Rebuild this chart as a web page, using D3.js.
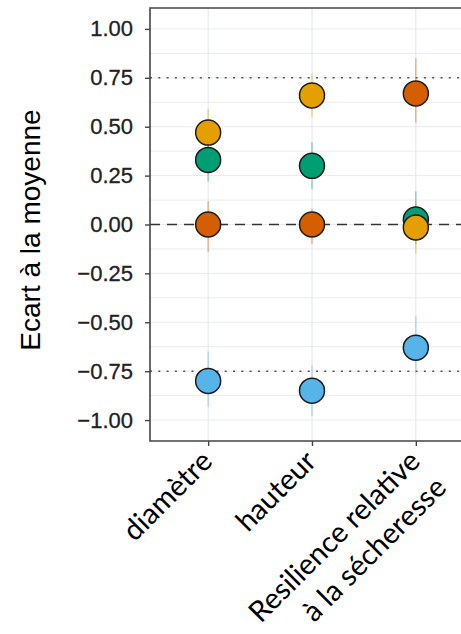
<!DOCTYPE html>
<html>
<head>
<meta charset="utf-8">
<script src="https://cdn.jsdelivr.net/npm/d3@7"></script>
<style>
  body { margin: 0; background: #fff; }
  .axis text { font-family: "Liberation Sans", Arial, sans-serif; fill: #222; }
</style>
</head>
<body>
<div id="chart"></div>
<script>
// Data
let categories = ["diamètre", "hauteur", "Resilience relative|à la sécheresse"];
let seriesNames = ["rouge", "orange", "vert", "bleu"];
let seriesColors = ["#D55E00", "#E69F00", "#009E73", "#56B4E9"];
let rougeValues = [0.0, 0.0, 0.67];
let rougeLow = [-0.14, -0.10, 0.52];
let rougeHigh = [0.12, 0.08, 0.85];
let orangeValues = [0.47, 0.66, -0.015];
let orangeLow = [0.36, 0.55, -0.15];
let orangeHigh = [0.59, 0.77, 0.12];
let vertValues = [0.33, 0.30, 0.025];
let vertLow = [0.22, 0.18, -0.10];
let vertHigh = [0.44, 0.42, 0.17];
let bleuValues = [-0.80, -0.85, -0.63];
let bleuLow = [-0.93, -0.98, -0.76];
let bleuHigh = [-0.65, -0.72, -0.47];
let yTicks = [-1, -0.75, -0.5, -0.25, 0, 0.25, 0.5, 0.75, 1];
let yGrid = d3.range(-8, 9).map(d => d / 8);
let refDotted = [-0.75, 0.75];
let refDashed = [0];

let W = 461, H = 634;
let margin = { top: 8, right: -13, bottom: 193, left: 150 };

let svg = d3.select("#chart")
  .append("svg")
  .attr("width", W)
  .attr("height", H);

// Scales
let x = d3.scalePoint()
  .domain(categories)
  .range([margin.left, W - margin.right])
  .padding(0.56);

let y = d3.scaleLinear()
  .domain([-1.107, 1.107])
  .range([H - margin.bottom, margin.top]);

let plotBottom = H - margin.bottom;

// Grid
svg.append("g")
  .selectAll("line")
  .data(yGrid)
  .join("line")
    .attr("x1", margin.left)
    .attr("x2", W)
    .attr("y1", d => y(d))
    .attr("y2", d => y(d))
    .attr("stroke", "#ebebeb")
    .attr("stroke-width", 1);

svg.append("g")
  .selectAll("line")
  .data(categories)
  .join("line")
    .attr("x1", d => x(d))
    .attr("x2", d => x(d))
    .attr("y1", margin.top)
    .attr("y2", plotBottom)
    .attr("stroke", "#dfe6ec")
    .attr("stroke-width", 1);

// Reference lines
svg.append("g")
  .selectAll("line")
  .data(refDotted)
  .join("line")
    .attr("x1", margin.left)
    .attr("x2", W)
    .attr("y1", d => y(d))
    .attr("y2", d => y(d))
    .attr("stroke", "#555")
    .attr("stroke-width", 1.6)
    .attr("stroke-dasharray", "2,6.3");

svg.append("g")
  .selectAll("line")
  .data(refDashed)
  .join("line")
    .attr("x1", margin.left)
    .attr("x2", W)
    .attr("y1", d => y(d))
    .attr("y2", d => y(d))
    .attr("stroke", "#333")
    .attr("stroke-width", 1.6)
    .attr("stroke-dasharray", "10,7");

// Points
let series = [
  { values: rougeValues, low: rougeLow, high: rougeHigh },
  { values: orangeValues, low: orangeLow, high: orangeHigh },
  { values: vertValues, low: vertLow, high: vertHigh },
  { values: bleuValues, low: bleuLow, high: bleuHigh }
];

let points = [];
series.forEach(function(s, i) {
  categories.forEach(function(c, j) {
    points.push({ name: seriesNames[i], color: seriesColors[i], cat: c,
      v: s.values[j], lo: s.low[j], hi: s.high[j] });
  });
});
// higher values drawn first so lower circles sit on top
points.sort((a, b) => b.v - a.v);

svg.append("g")
  .selectAll("line")
  .data(points)
  .join("line")
    .attr("x1", d => x(d.cat))
    .attr("x2", d => x(d.cat))
    .attr("y1", d => y(d.lo))
    .attr("y2", d => y(d.hi))
    .attr("stroke", d => d.color)
    .attr("stroke-opacity", 0.5)
    .attr("stroke-width", 1.2);

svg.append("g")
  .selectAll("circle")
  .data(points)
  .join("circle")
    .attr("cx", d => x(d.cat))
    .attr("cy", d => y(d.v))
    .attr("r", 12.5)
    .attr("fill", d => d.color)
    .attr("stroke", "#1c1c1c")
    .attr("stroke-width", 1.5);

// Frame
svg.append("path")
  .attr("d", "M" + W + "," + margin.top + "H" + margin.left + "V" + plotBottom + "H" + W)
  .attr("fill", "none")
  .attr("stroke", "#444")
  .attr("stroke-width", 1.6);

// y-axis
let yAxis = d3.axisLeft(y)
  .tickValues(yTicks)
  .tickSize(5)
  .tickPadding(12)
  .tickFormat(d3.format(".2f"));

let yAxisEl = svg.append("g")
  .attr("class", "axis")
  .attr("transform", "translate(" + margin.left + ",0)")
  .call(yAxis);
yAxisEl.select(".domain").remove();
yAxisEl.selectAll("line").attr("stroke", "#444").attr("stroke-width", 1.4);
yAxisEl.selectAll("text")
  .style("font-size", "22px")
  .style("stroke", "#222")
  .style("stroke-width", 0.3);

// x-axis
let xAxis = d3.axisBottom(x)
  .tickSize(5)
  .tickFormat("");

let xAxisEl = svg.append("g")
  .attr("class", "axis")
  .attr("transform", "translate(0," + plotBottom + ")")
  .call(xAxis);
xAxisEl.select(".domain").remove();
xAxisEl.selectAll("line").attr("stroke", "#444").attr("stroke-width", 1.4);

let labels = svg.append("g")
  .selectAll("text")
  .data(categories)
  .join("text")
    .attr("transform", d => "translate(" + (x(d) + 6) + "," + (plotBottom + 22) + ") rotate(-45)")
    .attr("text-anchor", "end")
    .style("font-family", "Lato, 'Open Sans', sans-serif")
    .style("font-size", "29px")
    .style("fill", "#000");

labels.selectAll("tspan")
  .data(d => d.split("|"))
  .join("tspan")
    .attr("x", 0)
    .attr("dy", (d, i) => i === 0 ? 0 : "1.28em")
    .text(d => d);

// y title
svg.append("text")
  .attr("transform", "translate(40," + 230 + ") rotate(-90)")
  .attr("text-anchor", "middle")
  .style("font-family", "'Liberation Sans', Arial, sans-serif")
  .style("font-size", "28px")
  .style("fill", "#000")
  .text("Ecart à la moyenne");
</script>
</body>
</html>
